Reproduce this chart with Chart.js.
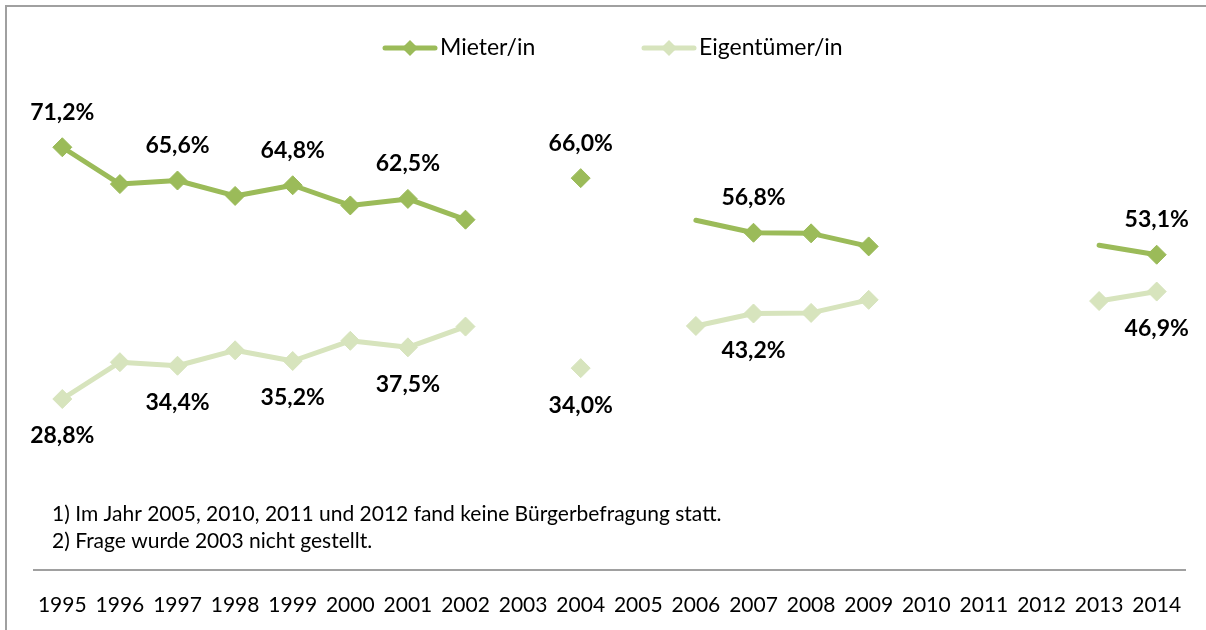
<!DOCTYPE html>
<html>
<head>
<meta charset="utf-8">
<script src="https://cdn.jsdelivr.net/npm/chart.js@4/dist/chart.umd.min.js"></script>
<style>
  html, body { margin: 0; padding: 0; background: #fff; }
  #wrap { width: 1206px; height: 630px; position: relative; }
</style>
</head>
<body>
<div id="wrap"><canvas id="c" width="1206" height="630"></canvas></div>
<script>
const years = ['1995','1996','1997','1998','1999','2000','2001','2002','2003','2004','2005','2006','2007','2008','2009','2010','2011','2012','2013','2014'];
const mieter = [71.2, 65.0, 65.6, 63.0, 64.8, 61.4, 62.5, 59.0, null, 66.0, null, 58.9, 56.8, 56.7, 54.5, null, null, null, 54.7, 53.1];
const eigentuemer = [28.8, 35.0, 34.4, 37.0, 35.2, 38.6, 37.5, 41.0, null, 34.0, null, 41.1, 43.2, 43.3, 45.5, null, null, null, 45.3, 46.9];
const labeledIdx = [0, 2, 4, 6, 9, 12, 19];
const seriesNames = ['Mieter/in', 'Eigentümer/in'];
const footnotes = [
  '1) Im Jahr 2005, 2010, 2011 und 2012 fand keine Bürgerbefragung statt.',
  '2) Frage wurde 2003 nicht gestellt.'
];

const DARK = '#9bbb59';
const LIGHT = '#d7e4bd';
const FONT = 'Lato, "Open Sans", sans-serif';

function fmt(v) { return v.toFixed(1).replace('.', ',') + '%'; }

function diamond(ctx, x, y, r, color) {
  ctx.beginPath();
  ctx.moveTo(x - r, y); ctx.lineTo(x, y - r); ctx.lineTo(x + r, y); ctx.lineTo(x, y + r);
  ctx.closePath();
  ctx.fillStyle = color; ctx.fill();
}

const decor = {
  id: 'decor',
  beforeDraw(chart) {
    const ctx = chart.ctx;
    ctx.save();
    ctx.fillStyle = '#fff';
    ctx.fillRect(0, 0, chart.width, chart.height);
    ctx.strokeStyle = '#a0a0a0';
    ctx.lineWidth = 2;
    ctx.beginPath();
    ctx.moveTo(6, 630); ctx.lineTo(6, 6); ctx.lineTo(1206, 6);
    ctx.stroke();
    ctx.restore();
  },
  afterDraw(chart) {
    const ctx = chart.ctx;
    ctx.save();
    // legend
    const items = [
      { name: seriesNames[0], color: DARK, x0: 385, x1: 435, tx: 440 },
      { name: seriesNames[1], color: LIGHT, x0: 644, x1: 694, tx: 699 }
    ];
    const ly = 48;
    items.forEach(it => {
      ctx.strokeStyle = it.color; ctx.lineWidth = 5; ctx.lineCap = 'round';
      ctx.beginPath(); ctx.moveTo(it.x0, ly); ctx.lineTo(it.x1, ly); ctx.stroke();
      diamond(ctx, (it.x0 + it.x1) / 2, ly, 8, it.color);
      ctx.fillStyle = '#000';
      ctx.font = '23px ' + FONT;
      ctx.textAlign = 'left'; ctx.textBaseline = 'middle';
      ctx.fillText(it.name, it.tx, ly);
    });
    // footnotes
    ctx.font = '21px ' + FONT;
    ctx.fillStyle = '#000';
    ctx.textAlign = 'left'; ctx.textBaseline = 'middle';
    ctx.fillText(footnotes[0], 52, 514);
    ctx.fillText(footnotes[1], 52, 541);
    // data labels
    ctx.font = 'bold 23px ' + FONT;
    ctx.textAlign = 'center';
    const m0 = chart.getDatasetMeta(0), m1 = chart.getDatasetMeta(1);
    labeledIdx.forEach(i => {
      const p0 = m0.data[i], p1 = m1.data[i];
      if (mieter[i] != null) ctx.fillText(fmt(mieter[i]), p0.x, p0.y - 35);
      if (eigentuemer[i] != null) ctx.fillText(fmt(eigentuemer[i]), p1.x, p1.y + 37);
    });
    ctx.restore();
  }
};

const mieterRadius = mieter.map((v, i) => (i === 11 || i === 18) ? 0 : 9.5);

new Chart(document.getElementById('c'), {
  type: 'line',
  data: {
    labels: years,
    datasets: [
      {
        label: seriesNames[0], data: mieter,
        borderColor: DARK, backgroundColor: DARK, borderWidth: 5,
        borderCapStyle: 'round', borderJoinStyle: 'round',
        pointStyle: 'rectRot', pointRadius: mieterRadius, pointBorderWidth: 1,
        pointBorderColor: DARK, pointBackgroundColor: DARK,
        spanGaps: false, tension: 0, order: 2
      },
      {
        label: seriesNames[1], data: eigentuemer,
        borderColor: LIGHT, backgroundColor: LIGHT, borderWidth: 5,
        borderCapStyle: 'round', borderJoinStyle: 'round',
        pointStyle: 'rectRot', pointRadius: 9.5, pointBorderWidth: 1,
        pointBorderColor: LIGHT, pointBackgroundColor: LIGHT,
        spanGaps: false, tension: 0, order: 1
      }
    ]
  },
  options: {
    responsive: false,
    animation: false,
    devicePixelRatio: 1,
    layout: { padding: { left: 33.5, right: 20.5, top: 95, bottom: 0 } },
    plugins: { legend: { display: false }, tooltip: { enabled: false } },
    scales: {
      x: {
        offset: true,
        grid: { display: false, drawTicks: false },
        border: { display: true, color: '#a0a0a0', width: 2 },
        ticks: { color: '#000', font: { family: FONT, size: 21 }, padding: 23, maxRotation: 0, autoSkip: false },
        afterFit(scale) { scale.height = 60; }
      },
      y: {
        display: false, min: 0, max: 80
      }
    }
  },
  plugins: [decor]
});
</script>
</body>
</html>
